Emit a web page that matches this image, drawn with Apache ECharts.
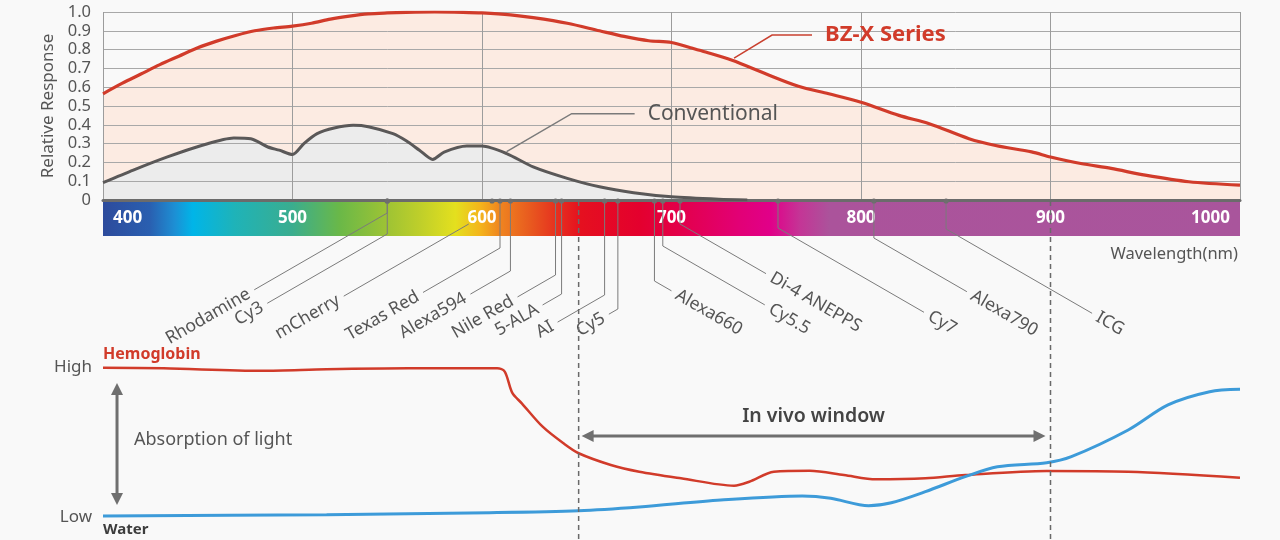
<!DOCTYPE html>
<html><head><meta charset="utf-8">
<script src="https://cdn.jsdelivr.net/npm/echarts@6/dist/echarts.min.js"></script>
<style>html,body{margin:0;padding:0;background:#f9f9f9}#c{width:1280px;height:540px}</style>
</head><body><div id="c"></div>
<script>
// ---------------- data ----------------
const wavelengthTicks = [400, 500, 600, 700, 800, 900, 1000];
const responseTicks = [0, 0.1, 0.2, 0.3, 0.4, 0.5, 0.6, 0.7, 0.8, 0.9, 1.0];

const bzxWavelength = [400,410,420,430,440,450,460,470,480,490,500,510,520,530,540,550,560,575,590,600,615,627,645,662,675,688,700,710,718,732,750,767,783,800,820,836,857,871,890,900,916,932,950,973,1000];
const bzxResponse   = [0.565,0.62,0.67,0.72,0.765,0.81,0.845,0.875,0.90,0.915,0.925,0.94,0.962,0.978,0.99,0.995,0.998,1.0,0.998,0.995,0.985,0.97,0.94,0.90,0.87,0.847,0.838,0.81,0.787,0.743,0.67,0.605,0.565,0.52,0.45,0.406,0.326,0.29,0.256,0.229,0.194,0.168,0.132,0.097,0.079];

const convWavelength = [400,416,434,452,469,478,487,493,500,506,513,522,532,540,553,560,567,574,580,592,600,613,627,645,662,680,700,725,740];
const convResponse   = [0.092,0.159,0.229,0.29,0.33,0.326,0.282,0.265,0.242,0.30,0.353,0.383,0.397,0.39,0.353,0.315,0.265,0.216,0.255,0.287,0.287,0.247,0.176,0.115,0.07,0.039,0.017,0.004,0];

const hbWavelength = [400,432,484,518,561,608,612,616,621,632,643,651,668,683,705,733,741,754,773,791,808,834,855,898,941,1000];
const hbAbsorption = [99.5,99.1,97.5,98.5,99.1,99.1,96.9,82.7,75.8,60.2,49.1,42.5,34.7,30.2,25.8,20.9,23.5,30.2,30.9,28,25.1,25.8,28,30.7,30.2,26.2];

const waterWavelength = [400,518,604,651,683,726,769,784,804,816,834,855,872,898,911,941,962,984,1000];
const waterAbsorption = [0.7,1.5,2.9,4.2,6.7,11.3,14,12.5,7.5,9.5,16.9,26.9,33.5,36.2,40.2,58,74.7,83.5,85.1];

const dyeNames = ['Rhodamine','Cy3','mCherry','','Texas Red','Alexa594','Nile Red','5-ALA','AI','Cy5','Alexa660','Cy5.5','Di-4 ANEPPS','Cy7','Alexa790','ICG'];
const dyeNm    = [550,550,593,605.3,609.5,615,638.8,642,664.7,671.7,691,695.4,704.5,756.2,806.8,844.9];

const inVivoWindow = [651, 900];
const calloutText = ['BZ-X Series', 'Conventional'];
const calloutNm   = [733, 613];
const calloutVal  = [0.755, 0.257];

// ---------------- layout (not data) ----------------
// [side, vertical drop px, horizontal run px, flag]
const dyeLeader = [
  ['L',12,133],['L',33,120],['L',23,125,'nostem'],['L',0,0],['L',47,77],['L',70,40],['L',74,38],['L',93,19],['L',94,47],['L',108,9],
  ['R',80,17],['R',45,102],['R',23,86],['R',27,146],['R',37,93],['R',28,146]
];
const calloutLayout = [
  {knee:[38,-23], end:[78,-23], textDx:91, line:'#c9402f', font:'bold 22px "Noto Sans"', fill:'#d13b2a'},
  {knee:[65,-38], end:[128,-38], textDx:141, line:'#7a7a7a', font:'21px "Noto Sans"', fill:'#555555'}
];
const FONT = 'Noto Sans';
const D30 = Math.PI / 6, TAN30 = Math.tan(D30);
const pairs = (xs, ys) => xs.map((x, i) => [x, ys[i]]);

const spectrum = {type:'linear', x:0, y:0, x2:1, y2:0, colorStops:[
  {offset:0, color:'#2d4b9c'},{offset:0.041, color:'#2a5fb0'},{offset:0.063, color:'#1d8fd4'},
  {offset:0.079, color:'#00b5e8'},{offset:0.116, color:'#1fb3b8'},{offset:0.166, color:'#3aad8f'},
  {offset:0.208, color:'#6ab848'},{offset:0.25, color:'#9ec334'},{offset:0.279, color:'#bfcf2a'},
  {offset:0.31, color:'#e4e01e'},{offset:0.332, color:'#f4b41c'},{offset:0.349, color:'#ef8520'},
  {offset:0.376, color:'#e8591f'},{offset:0.398, color:'#e6321f'},{offset:0.42, color:'#e5101f'},
  {offset:0.472, color:'#e4002e'},{offset:0.507, color:'#e3004a'},{offset:0.56, color:'#e20076'},
  {offset:0.587, color:'#e10089'},{offset:0.613, color:'#c43596'},{offset:0.639, color:'#ab539b'},
  {offset:1, color:'#a9559c'}]};

const chart = echarts.init(document.getElementById('c'));
const labelFmt = v => v === wavelengthTicks[0] ? '{l|' + v + '}' : v === wavelengthTicks[wavelengthTicks.length-1] ? '{r|' + v + '}' : '{n|' + v + '}';
const tickTxt = {color:'#ffffff', fontSize:17, fontWeight:'bold', fontFamily:FONT};
const txt = (t, font, fill, align) => ({text:t, font, fill, align:align||'left', verticalAlign:'middle', textAlign:align||'left', textVerticalAlign:'middle'});

const option = {
  backgroundColor:'#f9f9f9',
  animation:false,
  textStyle:{fontFamily:FONT},
  grid:[
    {left:103, right:40, top:12, height:188},
    {left:103, right:40, top:367, height:150},
    {left:103, right:40, top:201, height:35, show:true, borderWidth:0, backgroundColor:spectrum}
  ],
  xAxis:[
    {gridIndex:0, type:'value', min:wavelengthTicks[0], max:wavelengthTicks[wavelengthTicks.length-1], interval:100, z:2,
     axisLine:{show:true, onZero:false, lineStyle:{color:'#6b6b6b', width:3}}, axisTick:{show:false},
     splitLine:{show:true, lineStyle:{color:'#9c9c9c', width:1}},
     axisLabel:{margin:10, formatter:labelFmt, alignMinLabel:'left', alignMaxLabel:'right',
       rich:{n:tickTxt, l:Object.assign({padding:[0,0,0,10]}, tickTxt), r:Object.assign({padding:[0,10,0,0]}, tickTxt)}}},
    {gridIndex:1, type:'value', min:400, max:1000, show:false},
    {gridIndex:2, type:'value', min:400, max:1000, show:false}
  ],
  yAxis:[
    {gridIndex:0, type:'value', min:responseTicks[0], max:responseTicks[responseTicks.length-1], interval:0.1, z:2,
     axisLine:{show:false}, axisTick:{show:false},
     splitLine:{show:true, lineStyle:{color:'#a8a8a8', width:1}},
     axisLabel:{color:'#555', fontSize:16.5, margin:12, formatter:v => v === 0 ? '0' : v.toFixed(1)},
     name:'Relative Response', nameLocation:'middle', nameGap:43, nameTextStyle:{color:'#555', fontSize:17}},
    {gridIndex:1, type:'value', min:0, max:100, interval:100,
     axisLine:{show:false}, axisTick:{show:false}, splitLine:{show:false},
     axisLabel:{color:'#555', fontSize:17, margin:11, formatter:v => v === 100 ? 'High' : 'Low'}},
    {gridIndex:2, type:'value', min:0, max:1, show:false}
  ],
  series:[
    {type:'line', xAxisIndex:0, yAxisIndex:0, data:pairs(bzxWavelength, bzxResponse), smooth:0.3, symbol:'none', z:1,
     lineStyle:{width:0}, areaStyle:{color:'#fcebe2', opacity:1}, silent:true},
    {type:'line', xAxisIndex:0, yAxisIndex:0, data:pairs(convWavelength, convResponse), smooth:0.25, symbol:'none', z:1,
     lineStyle:{width:0}, areaStyle:{color:'#ececec', opacity:1}, silent:true},
    {type:'line', xAxisIndex:0, yAxisIndex:0, data:pairs(bzxWavelength, bzxResponse), smooth:0.3, symbol:'none', z:3,
     lineStyle:{color:'#d13b2a', width:3.2}},
    {type:'line', xAxisIndex:0, yAxisIndex:0, data:pairs(convWavelength, convResponse), smooth:0.25, symbol:'none', z:3,
     lineStyle:{color:'#5a5858', width:3}},
    {type:'line', xAxisIndex:1, yAxisIndex:1, data:pairs(hbWavelength, hbAbsorption), smooth:0.3, symbol:'none', z:3,
     lineStyle:{color:'#d13b2a', width:2.5}},
    {type:'line', xAxisIndex:1, yAxisIndex:1, data:pairs(waterWavelength, waterAbsorption), smooth:0.3, symbol:'none', z:4,
     lineStyle:{color:'#3d9bd9', width:3}},
    // dye leaders
    {type:'custom', xAxisIndex:0, yAxisIndex:0, silent:true, z:6, clip:false,
     data:dyeNm.map((nm, i) => [nm, i]),
     renderItem(params, api){
       const i = api.value(1);
       const p = api.coord([api.value(0), 0]);
       const [side, drop, run, flag] = dyeLeader[i];
       const s = side === 'L' ? -1 : 1;
       const x0 = p[0], y0 = p[1] + 1;
       const kx = x0, ky = y0 + drop;
       const ex = kx + s * run, ey = ky + run * TAN30;
       const ch = [];
       if (run > 0) ch.push({type:'polyline', shape:{points: flag === 'nostem' ? [[kx,ky],[ex,ey]] : [[x0,y0],[kx,ky],[ex,ey]]},
         style:{stroke:'#7b7b7b', lineWidth:1, fill:'none'}});
       if (flag !== 'nostem') ch.push({type:'circle', shape:{cx:x0, cy:y0, r:2.6}, style:{fill:'#6e6e6e'}});
       if (dyeNames[i]) {
         const g = 6;
         ch.push({type:'text', x: ex + s * g * Math.cos(D30), y: ey + g * Math.sin(D30), rotation: s < 0 ? D30 : -D30,
           style:txt(dyeNames[i], '17.5px "Noto Sans"', '#555', s < 0 ? 'right' : 'left')});
       }
       return {type:'group', children:ch};
     }},
    // dashed in-vivo boundaries
    {type:'custom', xAxisIndex:0, yAxisIndex:0, silent:true, z:7, clip:false,
     data:inVivoWindow.map(v => [v]),
     renderItem(params, api){
       const p = api.coord([api.value(0), 0]);
       return {type:'line', shape:{x1:p[0], y1:p[1] + 1, x2:p[0], y2:api.getHeight()},
               style:{stroke:'#6a6a6a', lineWidth:1.5, lineDash:[5,4]}};
     }},
    // callouts
    {type:'custom', xAxisIndex:0, yAxisIndex:0, silent:true, z:8, clip:false,
     data:calloutNm.map((nm, i) => [nm, calloutVal[i], i]),
     renderItem(params, api){
       const i = api.value(2), L = calloutLayout[i];
       const p = api.coord([api.value(0), api.value(1)]);
       return {type:'group', children:[
         {type:'polyline', shape:{points:[[p[0],p[1]],[p[0]+L.knee[0],p[1]+L.knee[1]],[p[0]+L.end[0],p[1]+L.end[1]]]},
          style:{stroke:L.line, lineWidth:1.5, fill:'none'}},
         {type:'text', x:p[0]+L.textDx, y:p[1]+L.end[1], style:txt(calloutText[i], L.font, L.fill)}
       ]};
     }},
    // in vivo window arrow
    {type:'custom', xAxisIndex:1, yAxisIndex:1, silent:true, z:8, clip:false,
     data:[[inVivoWindow[0], inVivoWindow[1], 54]],
     renderItem(params, api){
       const a = api.coord([api.value(0), api.value(2)]), b = api.coord([api.value(1), api.value(2)]);
       const x1 = a[0] + 3, x2 = b[0] - 5, y = a[1];
       return {type:'group', children:[
         {type:'line', shape:{x1:x1+8, y1:y, x2:x2-8, y2:y}, style:{stroke:'#6f6f6f', lineWidth:3}},
         {type:'polygon', shape:{points:[[x1,y],[x1+12,y-6],[x1+12,y+6]]}, style:{fill:'#6f6f6f'}},
         {type:'polygon', shape:{points:[[x2,y],[x2-12,y-6],[x2-12,y+6]]}, style:{fill:'#6f6f6f'}},
         {type:'text', x:(x1+x2)/2, y:y-20, style:txt('In vivo window', '600 19.5px "Noto Sans"', '#444', 'center')}
       ]};
     }},
    // absorption arrow
    {type:'custom', xAxisIndex:1, yAxisIndex:1, silent:true, z:8, clip:false,
     data:[[407.4, 89.3, 8]],
     renderItem(params, api){
       const a = api.coord([api.value(0), api.value(1)]), b = api.coord([api.value(0), api.value(2)]);
       const x = a[0], y1 = a[1], y2 = b[1];
       return {type:'group', children:[
         {type:'line', shape:{x1:x, y1:y1+8, x2:x, y2:y2-8}, style:{stroke:'#6f6f6f', lineWidth:3}},
         {type:'polygon', shape:{points:[[x,y1],[x-6,y1+12],[x+6,y1+12]]}, style:{fill:'#6f6f6f'}},
         {type:'polygon', shape:{points:[[x,y2],[x-6,y2-12],[x+6,y2-12]]}, style:{fill:'#6f6f6f'}},
         {type:'text', x:x+17, y:(y1+y2)/2 - 4, style:txt('Absorption of light', '18px "Noto Sans"', '#555')}
       ]};
     }}
  ],
  graphic:[
    {type:'text', right:42, top:246, style:{text:'Wavelength(nm)', font:'16.5px "Noto Sans"', fill:'#555'}},
    {type:'text', x:103, y:354, style:txt('Hemoglobin', 'bold 16px "Noto Sans"', '#d13b2a')},
    {type:'text', x:103, y:530, style:txt('Water', 'bold 15px "Noto Sans"', '#3d3d3d')}
  ]
};
chart.setOption(option);
</script>
</body></html>
